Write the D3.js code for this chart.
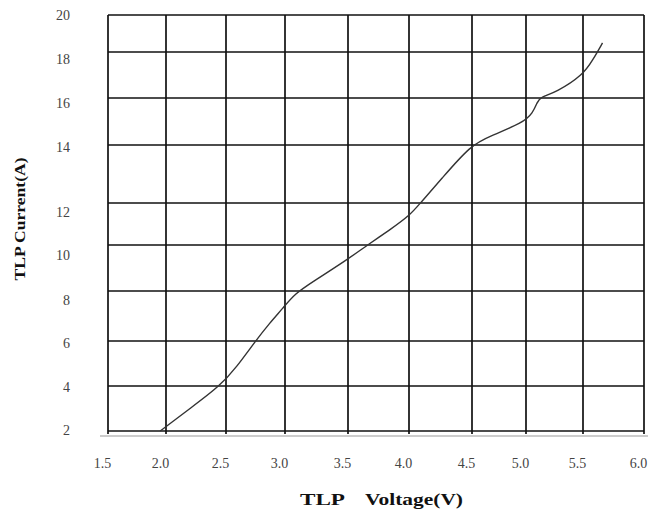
<!doctype html>
<html lang="en">
  <head>
    <meta charset="utf-8">
    <title>TLP I-V curve</title>
    <script src="https://d3js.org/d3.v7.min.js"></script>
    <style>
      body { margin: 0; background: #fff; }
      .tick text { font-family: 'Liberation Serif', 'Times New Roman', serif; font-size: 14px; fill: #444; }
      .axesTitle { font-family: 'Liberation Serif', 'Times New Roman', serif; font-weight: bold; fill: #111; }
    </style>
  </head>
  <body>
    <div id="holder"></div>
  </body>
  <script>
      // data
      const voltage = [1.95, 2.20, 2.45, 2.59, 2.75, 2.87, 2.98, 3.08, 3.22, 3.49, 3.66, 3.84, 4.01, 4.09, 4.25, 4.49, 4.67, 4.97, 5.06, 5.10, 5.12, 5.27, 5.50, 5.58, 5.66];
      const current = [2.0, 3.0, 4.0, 4.84, 6.0, 6.72, 7.3, 7.9, 8.4, 9.35, 10.0, 10.71, 11.43, 12.0, 12.79, 14.0, 14.38, 14.94, 15.36, 15.83, 16.02, 16.26, 17.0, 17.65, 18.49];
      const xTicks = [1.5, 2.0, 2.5, 3.0, 3.5, 4.0, 4.5, 5.0, 5.5, 6.0];
      const yTicks = [2, 4, 6, 8, 10, 12, 14, 16, 18, 20];

      const w = 651;
      const h = 513;

      // the printed grid is not evenly spaced, so piecewise scales
      const xGrid = [108, 166, 226, 285, 348, 409, 472, 526, 583, 644];
      const yGrid = [431, 386, 341, 291, 245, 203, 145, 98, 52, 15];
      const yLabelPos = [430, 387, 343, 300, 255, 212, 147, 103, 59, 15];

      const x = d3.scaleLinear().domain(xTicks).range(xGrid);
      const y = d3.scaleLinear().domain(yTicks).range(yGrid);
      const yLab = d3.scaleLinear().domain(yTicks).range(yLabelPos);

      const svg = d3.select('#holder')
          .append('svg')
          .attr('width', w)
          .attr('height', h);

      // grey base line under the grid
      svg.append('line')
          .attr('x1', 100).attr('x2', 648)
          .attr('y1', 436).attr('y2', 436)
          .attr('stroke', '#999')
          .attr('stroke-width', 1);

      // grid
      const grid = svg.append('g').attr('stroke', '#111').attr('stroke-width', 1.7);
      grid.selectAll('.v')
          .data(xTicks)
          .enter().append('line')
          .attr('x1', d => x(d)).attr('x2', d => x(d))
          .attr('y1', y(20)).attr('y2', y(2) + 3);
      grid.selectAll('.h')
          .data(yTicks)
          .enter().append('line')
          .attr('x1', x(1.5)).attr('x2', x(6.0))
          .attr('y1', d => y(d)).attr('y2', d => y(d));

      // axes (labels only)
      const xAxis = d3.axisBottom(x)
          .tickValues(xTicks)
          .tickSize(0)
          .tickFormat(d3.format('.1f'));
      svg.append('g')
          .attr('transform', 'translate(-6,' + 455 + ')')
          .call(xAxis)
          .call(g => g.select('.domain').remove());

      const yAxis = d3.axisLeft(yLab)
          .tickValues(yTicks)
          .tickSize(0)
          .tickFormat(d3.format('d'));
      svg.append('g')
          .attr('transform', 'translate(73,0)')
          .call(yAxis)
          .call(g => g.select('.domain').remove());

      // curve
      const pts = voltage.map((v, i) => [v, current[i]]);
      const line = d3.line()
          .x(d => x(d[0]))
          .y(d => y(d[1]))
          .curve(d3.curveBasis);
      svg.append('path')
          .datum(pts)
          .attr('d', line)
          .attr('fill', 'none')
          .attr('stroke', '#333')
          .attr('stroke-width', 1.4);

      // axis titles
      svg.append('text')
          .attr('class', 'axesTitle')
          .attr('x', 300).attr('y', 505)
          .style('font-size', '17px')
          .attr('textLength', 45)
          .attr('lengthAdjust', 'spacingAndGlyphs')
          .text('TLP');
      svg.append('text')
          .attr('class', 'axesTitle')
          .attr('x', 365).attr('y', 505)
          .style('font-size', '17px')
          .attr('textLength', 98)
          .attr('lengthAdjust', 'spacingAndGlyphs')
          .text('Voltage(V)');

      svg.append('text')
          .attr('class', 'axesTitle')
          .attr('transform', 'translate(25,219) rotate(-90)')
          .attr('text-anchor', 'middle')
          .style('font-size', '14px')
          .attr('textLength', 123)
          .attr('lengthAdjust', 'spacingAndGlyphs')
          .text('TLP Current(A)');
  </script>
</html>
